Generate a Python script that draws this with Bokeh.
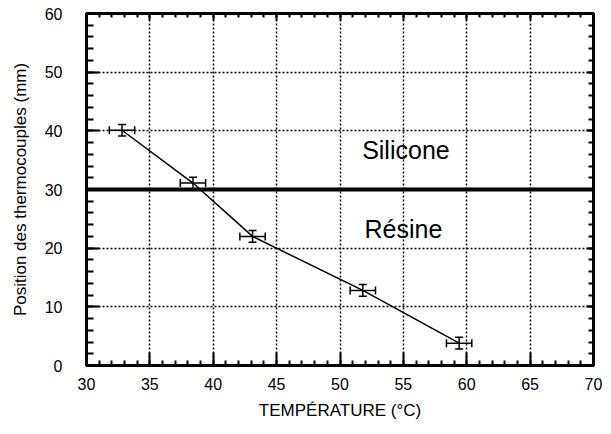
from bokeh.plotting import figure
from bokeh.models import (ColumnDataSource, Range1d, LinearAxis, SingleIntervalTicker,
                          Whisker, TeeHead, Span, CustomJSTickFormatter)
from bokeh.core.properties import value
from bokeh.embed import file_html
from bokeh.resources import INLINE

# Data
temperature = [32.8, 38.4, 43.1, 51.8, 59.4]
position = [40.1, 31.1, 22.0, 12.8, 3.8]
temp_err = [1.0, 1.0, 1.0, 1.0, 1.0]
pos_err = [1.0, 1.0, 1.0, 1.0, 1.0]
interface_position = 30
region_labels = ["Silicone", "Résine"]
region_x = [55.2, 55.0]
region_y = [36.7, 23.3]
x_title = "TEMPÉRATURE (°C)"
y_title = "Position des thermocouples (mm)"

FONT = "Liberation Sans"

src = ColumnDataSource(dict(
    t=temperature, y=position,
    t_lo=[t - e for t, e in zip(temperature, temp_err)],
    t_hi=[t + e for t, e in zip(temperature, temp_err)],
    y_lo=[y - e for y, e in zip(position, pos_err)],
    y_hi=[y + e for y, e in zip(position, pos_err)],
))

p = figure(width=603, height=426, output_backend="svg", toolbar_location=None,
           x_range=Range1d(30, 70), y_range=Range1d(0, 60),
           x_axis_location=None, y_axis_location=None,
           min_border_left=86, min_border_right=10, min_border_top=13, min_border_bottom=61)
p.background_fill_color = "white"
p.border_fill_color = "white"
p.outline_line_color = "black"
p.outline_line_width = 3

xt = SingleIntervalTicker(interval=5, num_minor_ticks=5)
yt = SingleIntervalTicker(interval=10, num_minor_ticks=5)
blank = CustomJSTickFormatter(code="return ''")


def style_axis(ax, labels, major_in, minor_in):
    ax.axis_line_width = 3
    ax.axis_line_color = "black"
    ax.major_tick_in = major_in
    ax.major_tick_out = 0
    ax.minor_tick_in = minor_in
    ax.minor_tick_out = 0
    ax.major_tick_line_width = 2
    ax.minor_tick_line_width = 2
    ax.major_tick_line_color = "black"
    ax.minor_tick_line_color = "black"
    if not labels:
        ax.formatter = blank
        ax.major_label_standoff = 0
    else:
        ax.major_label_text_font = FONT
        ax.major_label_text_font_size = "16px"
        ax.major_label_text_color = "black"
        ax.axis_label_text_font = FONT
        ax.axis_label_text_font_size = "17px"
        ax.axis_label_text_font_style = "normal"
        ax.axis_label_text_color = "black"


xb = LinearAxis(ticker=xt, axis_label=x_title)
style_axis(xb, True, 13, 5)
xb.major_label_standoff = 12
xb.axis_label_standoff = 8
p.add_layout(xb, "below")

yl = LinearAxis(ticker=yt, axis_label=y_title)
style_axis(yl, True, 13, 7)
yl.major_label_standoff = 24
yl.axis_label_standoff = 12
p.add_layout(yl, "left")

xa = LinearAxis(ticker=xt)
style_axis(xa, False, 7, 4)
p.add_layout(xa, "above")

yr = LinearAxis(ticker=yt)
style_axis(yr, False, 7, 5)
p.add_layout(yr, "right")

p.xgrid.ticker = xt
p.ygrid.ticker = yt
for g in (p.xgrid, p.ygrid):
    g.grid_line_color = "black"
    g.grid_line_width = 1.5
    g.grid_line_dash = "2 2"

p.add_layout(Span(location=interface_position, dimension="width",
                  line_color="black", line_width=4))

p.line("t", "y", source=src, line_color="black", line_width=1.5)

p.add_layout(Whisker(source=src, base="y", lower="t_lo", upper="t_hi", dimension="width",
                     line_color="black", line_width=1.5,
                     lower_head=TeeHead(size=8, line_width=1.5, line_color="black"),
                     upper_head=TeeHead(size=8, line_width=1.5, line_color="black")))
p.add_layout(Whisker(source=src, base="t", lower="y_lo", upper="y_hi", dimension="height",
                     line_color="black", line_width=1.5,
                     lower_head=TeeHead(size=8, line_width=1.5, line_color="black"),
                     upper_head=TeeHead(size=8, line_width=1.5, line_color="black")))

p.text(x=region_x, y=region_y, text=region_labels, text_font=value(FONT),
       text_font_size="25px", text_align="center", text_baseline="middle",
       text_color="black")

open("out.html", "w").write(file_html(p, INLINE))
